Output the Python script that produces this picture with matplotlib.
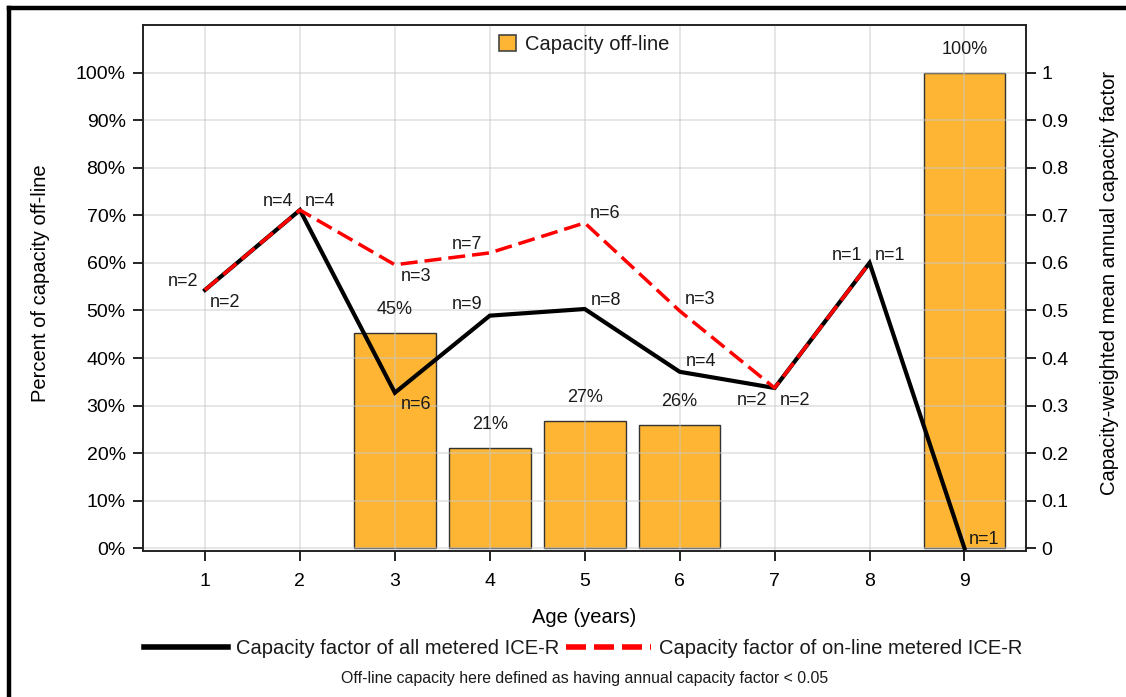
import matplotlib
matplotlib.use('Agg')
import matplotlib.pyplot as plt
from matplotlib.patches import Patch
from matplotlib.lines import Line2D
from matplotlib.ticker import FuncFormatter

plt.rcParams['font.family'] = ['Liberation Sans', 'DejaVu Sans']
plt.rcParams['text.color'] = '#1a1a1a'

# Data
ages = [1, 2, 3, 4, 5, 6, 7, 8, 9]
offline_ages = [3, 4, 5, 6, 9]
offline_share = [0.453, 0.211, 0.268, 0.260, 1.0]
cf_all = [0.543, 0.711, 0.327, 0.489, 0.503, 0.371, 0.337, 0.600, 0.0]
n_all = [2, 4, 6, 9, 8, 4, 2, 1, 1]
online_ages = [1, 2, 3, 4, 5, 6, 7, 8]
cf_online = [0.543, 0.711, 0.596, 0.621, 0.684, 0.499, 0.337, 0.600]
n_online = [2, 4, 3, 7, 6, 3, 2, 1]

# label placement (pixels from the point, alignment)
off_all = [(5, -13, 'left'), (5, 9, 'left'), (6, -12, 'left'), (-7, 11, 'right'),
           (6, 9, 'left'), (6, 10, 'left'), (5, -13, 'left'), (5, 7, 'left'), (4, 9, 'left')]
off_online = [(-7, 8, 'right'), (-7, 9, 'right'), (6, -12, 'left'), (-8, 8, 'right'),
              (5, 9, 'left'), (5, 11, 'left'), (-7, -13, 'right'), (-7, 7, 'right')]

bar_color = '#FDB533'

fig = plt.figure(figsize=(11.26, 6.97), dpi=100)
ax = fig.add_axes([143/1126, 1 - 551/697, 883/1126, 526/697])
ax2 = ax.twinx()

# Bars on left axis
ax.bar(offline_ages, offline_share, width=0.86, color=bar_color,
       edgecolor='#333333', linewidth=1.0, zorder=1)
for x, v in zip(offline_ages, offline_share):
    ax.annotate(f'{v*100:.0f}%', (x, v), xytext=(0, 23), textcoords='offset pixels',
                ha='center', va='center', fontsize=13)

ax.set_xlim(0.347, 9.648)
ax.set_ylim(-0.0057, 1.10)
ax2.set_ylim(-0.0057, 1.10)
ax.set_xticks(ages)
ax.set_yticks([i / 10 for i in range(11)])
ax.yaxis.set_major_formatter(FuncFormatter(lambda v, p: f'{v*100:.0f}%'))
ax2.set_yticks([i / 10 for i in range(11)])
ax2.yaxis.set_major_formatter(FuncFormatter(lambda v, p: f'{v:g}'))

# grid on top of bars, faint
ax.set_axisbelow(False)
ax.grid(True, color='#c8c8c8', alpha=0.5, linewidth=1.3, zorder=1.5)

# Lines on right axis
ax2.plot(ages, cf_all, color='black', linewidth=3.0, solid_joinstyle='miter', zorder=3)
ax2.plot(online_ages, cf_online, color='#ff0000', linewidth=2.5,
         dashes=(4.9, 2.0), zorder=4)

for x, v, n, (dx, dy, ha) in zip(ages, cf_all, n_all, off_all):
    ax2.annotate(f'n={n}', (x, v), xytext=(dx, dy), textcoords='offset pixels',
                 ha=ha, va='center', fontsize=13)
for x, v, n, (dx, dy, ha) in zip(online_ages, cf_online, n_online, off_online):
    ax2.annotate(f'n={n}', (x, v), xytext=(dx, dy), textcoords='offset pixels',
                 ha=ha, va='center', fontsize=13)

# Axes styling
for a in (ax, ax2):
    for s in a.spines.values():
        s.set_linewidth(1.2)
        s.set_color('#222222')
ax.tick_params(axis='y', length=7, width=1.2, pad=5.5, labelsize=14)
ax.tick_params(axis='x', length=7, width=1.2, pad=9, labelsize=14)
ax2.tick_params(axis='y', length=7, width=1.2, pad=4, labelsize=14)

ax.set_xlabel('Age (years)', fontsize=14.5)
ax.xaxis.label.set_va('center')
ax.xaxis.set_label_coords(0.5, -0.1255)
ax.set_ylabel('Percent of capacity off-line', fontsize=14.5)
ax.yaxis.label.set_va('center')
ax.yaxis.set_label_coords(-0.1166, 0.51)
ax2.set_ylabel('Capacity-weighted mean annual capacity factor', fontsize=14.5)
ax2.yaxis.label.set_va('center')
ax2.yaxis.set_label_coords(1.095, 0.51)

# Legend for bars (top)
ax2.legend(handles=[Patch(facecolor=bar_color, edgecolor='#444444', linewidth=1.2,
                          label='Capacity off-line')],
           loc='upper center', bbox_to_anchor=(0.5, 1.0), frameon=False,
           fontsize=14.5, handlelength=0.85, handleheight=0.85,
           handletextpad=0.45, borderaxespad=0.2, borderpad=0.3)

# Legend for lines (bottom)
h_all = Line2D([], [], color='black', linewidth=4, label='Capacity factor of all metered ICE-R')
h_on = Line2D([], [], color='#ff0000', linewidth=4, dashes=(3.6, 1.44),
              label='Capacity factor of on-line metered ICE-R')
fig.legend(handles=[h_all, h_on], loc='center', bbox_to_anchor=(583/1126, 1 - 649/697),
           ncol=2, frameon=False, fontsize=14.5, handlelength=4.2,
           handletextpad=0.4, columnspacing=0.35)

fig.text(585/1126, 1 - 679/697,
         'Off-line capacity here defined as having annual capacity factor < 0.05',
         ha='center', va='center', fontsize=11.4)

# outer frame (cropped at right and bottom)
fig.add_artist(Line2D([9/1126, 9/1126], [0, 1 - 7.5/697], transform=fig.transFigure,
                      color='black', linewidth=3.2, solid_capstyle='projecting'))
fig.add_artist(Line2D([9/1126, 1.0], [1 - 7.5/697, 1 - 7.5/697], transform=fig.transFigure,
                      color='black', linewidth=3.2, solid_capstyle='projecting'))

plt.savefig('out.png', dpi=100)
